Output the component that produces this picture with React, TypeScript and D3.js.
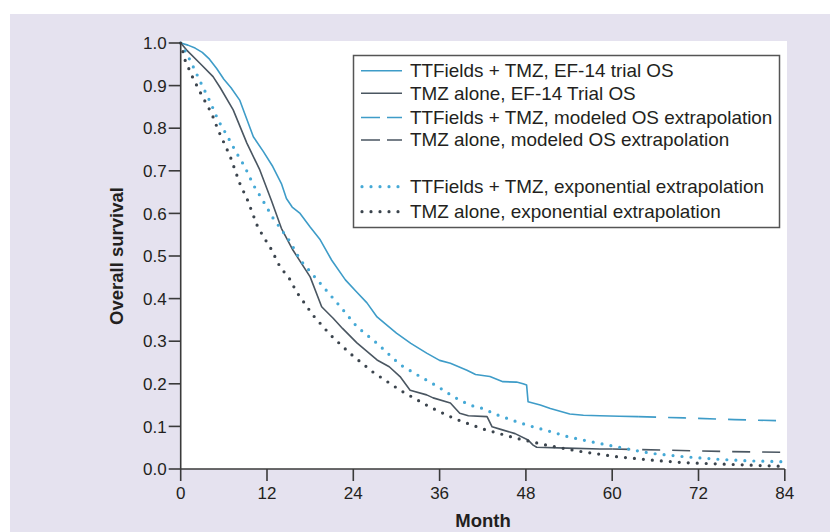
import React from "react";
import * as d3 from "d3";

// ---- Data ----
const ttfTrialMonths = [0,1,2,3,4,5,6,7,8.2,9,10.1,11.5,12.8,14,14.7,15.5,16.6,18,19.4,21,22.9,24.5,25.9,27.3,28.5,30,32,34.2,36,37.5,39.8,41,43,44.8,46.7,47.6,48.1,48.3,50,51.4,54.1,56,58.3,61,63.6];
const ttfTrialSurv = [1,0.995,0.988,0.978,0.962,0.94,0.915,0.895,0.866,0.83,0.78,0.745,0.71,0.67,0.635,0.615,0.6,0.568,0.538,0.49,0.444,0.415,0.39,0.357,0.34,0.319,0.295,0.272,0.255,0.248,0.232,0.222,0.217,0.205,0.204,0.2,0.197,0.158,0.15,0.142,0.129,0.126,0.125,0.124,0.123];

const tmzTrialMonths = [0,0.8,2.7,4.5,5.5,7.3,9.2,11,12.6,14,15.6,18,19.6,21.2,22.5,24.5,27.3,29,30.5,31.9,34.2,35.1,37.5,38.8,40,42.6,43.3,44.5,46.5,48.3,49,49.5,53.7,58.3,60];
const tmzTrialSurv = [1,0.984,0.952,0.921,0.895,0.843,0.765,0.702,0.631,0.565,0.514,0.451,0.381,0.354,0.33,0.296,0.256,0.24,0.217,0.185,0.174,0.167,0.155,0.131,0.125,0.123,0.099,0.093,0.083,0.068,0.056,0.051,0.049,0.047,0.047];

const ttfModelMonths = [63.6,70,77,84];
const ttfModelSurv = [0.123,0.12,0.116,0.113];

const tmzModelMonths = [60,68,76,84];
const tmzModelSurv = [0.047,0.044,0.041,0.039];

const ttfExpMonths = [0,1.3,2.9,4.1,5.2,6.4,7.8,8.9,10.1,11.4,12.8,15.2,16.6,19.4,22.2,24.5,27.3,30.5,33.3,35.6,37.9,40.2,42,44,46.7,49,51.4,54,56.5,60.6,65.3,69.9,74.5,79.2,84];
const ttfExpSurv = [1,0.96,0.903,0.862,0.819,0.784,0.741,0.71,0.667,0.631,0.59,0.534,0.491,0.436,0.381,0.334,0.295,0.245,0.217,0.195,0.17,0.15,0.142,0.127,0.111,0.099,0.088,0.075,0.066,0.052,0.037,0.029,0.023,0.019,0.017];

const tmzExpMonths = [0,0.6,1.7,2.9,4.3,5.2,6.9,8.2,9.3,10.6,11.5,12.4,13.8,15.2,16.1,18.4,20.8,23.5,26.7,30.5,34.7,38.1,42,46.7,51.4,56,60.6,65.3,69.9,74.5,79.2,84];
const tmzExpSurv = [1,0.96,0.918,0.878,0.835,0.796,0.733,0.671,0.631,0.573,0.545,0.522,0.475,0.445,0.416,0.361,0.315,0.272,0.228,0.185,0.145,0.118,0.094,0.072,0.054,0.04,0.029,0.021,0.015,0.012,0.009,0.006];

const xTicks = [0,12,24,36,48,60,72,84];
const yTicks = [0,0.1,0.2,0.3,0.4,0.5,0.6,0.7,0.8,0.9,1.0];

const legendLabels = [
  "TTFields + TMZ, EF-14 trial OS",
  "TMZ alone, EF-14 Trial OS",
  "TTFields + TMZ, modeled OS extrapolation",
  "TMZ alone, modeled OS extrapolation",
  "TTFields + TMZ, exponential extrapolation",
  "TMZ alone, exponential extrapolation",
];

const BLUE = "#3e9cc8";
const DARK = "#4a5661";
const BLUE_DOT = "#45a9d6";
const DARK_DOT = "#3b444d";
const TEXT = "#231f20";
const FONT = "'Liberation Sans', Arial, Helvetica, sans-serif";

export default function App() {
  const W = 830, H = 532;
  const x = d3.scaleLinear().domain([0, 84]).range([180.7, 784.8]);
  const y = d3.scaleLinear().domain([0, 1]).range([469, 43]);
  const line = d3.line<[number, number]>().x(d => x(d[0])).y(d => y(d[1]));
  const pts = (ms: number[], ss: number[]) => ms.map((m, i) => [m, ss[i]] as [number, number]);

  const series = [
    { d: pts(ttfTrialMonths, ttfTrialSurv), color: BLUE, dash: undefined, w: 1.6, cap: "butt" },
    { d: pts(tmzTrialMonths, tmzTrialSurv), color: DARK, dash: undefined, w: 1.6, cap: "butt" },
    { d: pts(ttfModelMonths, ttfModelSurv), color: BLUE, dash: "18 12", w: 1.6, cap: "butt" },
    { d: pts(tmzModelMonths, tmzModelSurv), color: DARK, dash: "18 12", w: 1.6, cap: "butt" },
    { d: pts(ttfExpMonths, ttfExpSurv), color: BLUE_DOT, dash: "0 9", w: 3.2, cap: "round" },
    { d: pts(tmzExpMonths, tmzExpSurv), color: DARK_DOT, dash: "0 9", w: 3.2, cap: "round" },
  ];

  const legendRows = [70.7, 93.3, 117.5, 140, 186.7, 211.7];
  const legendStyles = [
    { color: BLUE, dash: undefined, w: 1.6, cap: "butt" },
    { color: DARK, dash: undefined, w: 1.6, cap: "butt" },
    { color: BLUE, dash: "19 7", w: 1.6, cap: "butt" },
    { color: DARK, dash: "19 7", w: 1.6, cap: "butt" },
    { color: BLUE_DOT, dash: "0 9", w: 3.2, cap: "round" },
    { color: DARK_DOT, dash: "0 9", w: 3.2, cap: "round" },
  ];

  return (
    <svg width={W} height={H} style={{ position: "fixed", left: 0, top: 0, display: "block" }} fontFamily={FONT}>
      <rect x={0} y={0} width={W} height={H} fill="#ffffff" />
      <rect x={10} y={14} width={W - 10} height={H - 14} fill="#e5e2ef" />
      <rect x={180} y={41} width={607} height={428} fill="#ffffff" />

      {/* series */}
      {series.map((s, i) => (
        <path key={i} d={line(s.d) || ""} fill="none" stroke={s.color} strokeWidth={s.w}
          strokeDasharray={s.dash} strokeLinecap={s.cap as any} strokeLinejoin="round" />
      ))}

      {/* axes */}
      <line x1={x(0)} x2={x(0)} y1={y(1)} y2={y(0)} stroke="#3a3a3a" strokeWidth={1.6} />
      <line x1={x(0)} x2={x(84)} y1={y(0)} y2={y(0)} stroke="#3a3a3a" strokeWidth={1.6} />
      {yTicks.map(t => (
        <g key={"y" + t}>
          <line x1={x(0) - 12} x2={x(0)} y1={y(t)} y2={y(t)} stroke="#3a3a3a" strokeWidth={1.6} />
          <text x={x(0) - 14} y={y(t)} dy="0.36em" textAnchor="end" fontSize={17} fill={TEXT}>{d3.format(".1f")(t)}</text>
        </g>
      ))}
      {xTicks.map(t => (
        <g key={"x" + t}>
          <line x1={x(t)} x2={x(t)} y1={y(0)} y2={y(0) + 12} stroke="#3a3a3a" strokeWidth={1.6} />
          <text x={x(t)} y={499} textAnchor="middle" fontSize={17} fill={TEXT}>{t}</text>
        </g>
      ))}
      <text x={483} y={527} textAnchor="middle" fontSize={18.5} fontWeight="bold" fill={TEXT}>Month</text>
      <text transform="translate(123,256) rotate(-90)" textAnchor="middle" fontSize={18.5} fontWeight="bold" fill={TEXT}>Overall survival</text>

      {/* legend */}
      <rect x={353.5} y={55.5} width={426} height={172} fill="#ffffff" stroke="#555" strokeWidth={1.5} />
      {legendLabels.map((lab, i) => {
        const st = legendStyles[i];
        const ly = legendRows[i];
        return (
          <g key={"l" + i}>
            <line x1={st.cap === "round" ? 362 : 361} x2={st.cap === "round" ? 400 : 402} y1={ly} y2={ly}
              stroke={st.color} strokeWidth={st.w} strokeDasharray={st.dash} strokeLinecap={st.cap as any} />
            <text transform={`translate(410,${ly}) scale(1.08,1)`} dy="0.36em" fontSize={17.5} fill={TEXT}>{lab}</text>
          </g>
        );
      })}
    </svg>
  );
}
